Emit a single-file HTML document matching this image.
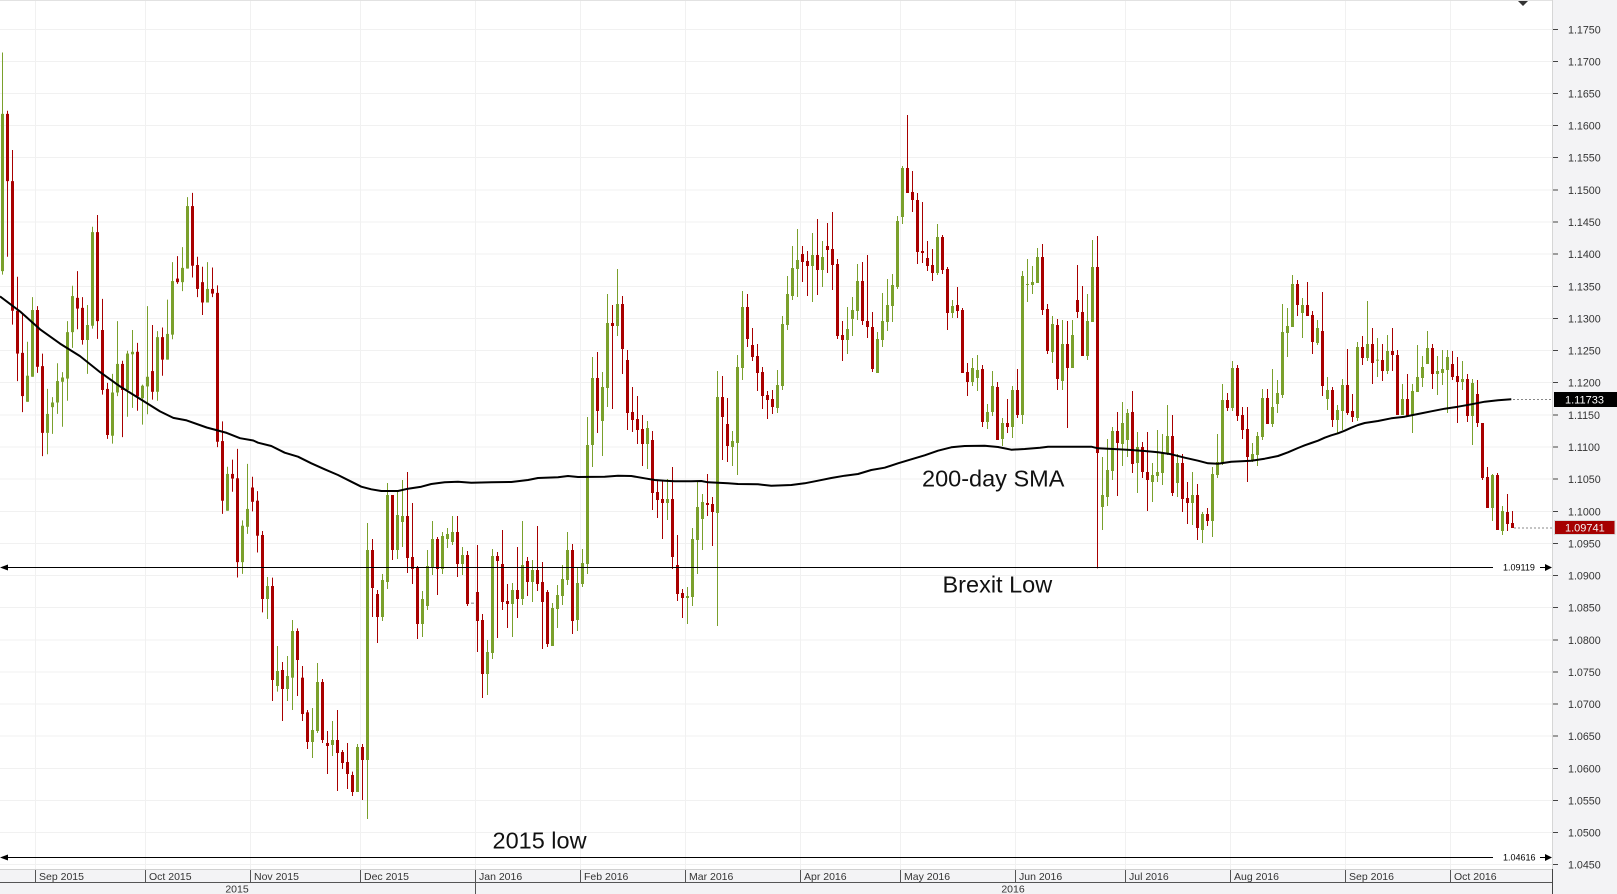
<!DOCTYPE html>
<html><head><meta charset="utf-8">
<style>
html,body{margin:0;padding:0;background:#fff;}
svg{display:block;font-family:"Liberation Sans",Arial,sans-serif;}
.a{stroke:#7aa02c;stroke-width:1;fill:none}
.b{stroke:#7aa02c;stroke-width:3;fill:none}
.c{stroke:#a80000;stroke-width:1;fill:none}
.d{stroke:#a80000;stroke-width:3;fill:none}
.tk{font-size:10.7px;fill:#333}
.mo{font-size:10.5px;fill:#333}
.big{font-size:23.5px;fill:#111}
</style></head>
<body>
<svg width="1617" height="894" viewBox="0 0 1617 894" xmlns="http://www.w3.org/2000/svg">
<rect x="0" y="0" width="1617" height="894" fill="#fff"/>
<!-- panels -->
<rect x="1553" y="0" width="64" height="894" fill="#f3f3f5"/>
<rect x="0" y="869.5" width="1553" height="25" fill="#f3f3f5"/>
<!-- horizontal grid -->
<g stroke="#f1f1f1" stroke-width="1">
<line x1="0" x2="1552" y1="29.5" y2="29.5"/><line x1="0" x2="1552" y1="61.5" y2="61.5"/><line x1="0" x2="1552" y1="93.5" y2="93.5"/><line x1="0" x2="1552" y1="125.5" y2="125.5"/><line x1="0" x2="1552" y1="157.5" y2="157.5"/><line x1="0" x2="1552" y1="190" y2="190"/><line x1="0" x2="1552" y1="222" y2="222"/><line x1="0" x2="1552" y1="254" y2="254"/><line x1="0" x2="1552" y1="286.5" y2="286.5"/><line x1="0" x2="1552" y1="318.5" y2="318.5"/><line x1="0" x2="1552" y1="350.5" y2="350.5"/><line x1="0" x2="1552" y1="382.5" y2="382.5"/><line x1="0" x2="1552" y1="415" y2="415"/><line x1="0" x2="1552" y1="447" y2="447"/><line x1="0" x2="1552" y1="479" y2="479"/><line x1="0" x2="1552" y1="511.5" y2="511.5"/><line x1="0" x2="1552" y1="543.5" y2="543.5"/><line x1="0" x2="1552" y1="575.5" y2="575.5"/><line x1="0" x2="1552" y1="607.5" y2="607.5"/><line x1="0" x2="1552" y1="640" y2="640"/><line x1="0" x2="1552" y1="672" y2="672"/><line x1="0" x2="1552" y1="704" y2="704"/><line x1="0" x2="1552" y1="736" y2="736"/><line x1="0" x2="1552" y1="768.5" y2="768.5"/><line x1="0" x2="1552" y1="800.5" y2="800.5"/><line x1="0" x2="1552" y1="832.5" y2="832.5"/><line x1="0" x2="1552" y1="864.5" y2="864.5"/>
</g>
<!-- vertical grid -->
<g stroke="#f1f1f1" stroke-width="1">
<line x1="35.5" x2="35.5" y1="0" y2="869"/><line x1="145.5" x2="145.5" y1="0" y2="869"/><line x1="250.5" x2="250.5" y1="0" y2="869"/><line x1="360.5" x2="360.5" y1="0" y2="869"/><line x1="475.5" x2="475.5" y1="0" y2="869"/><line x1="580.5" x2="580.5" y1="0" y2="869"/><line x1="685.5" x2="685.5" y1="0" y2="869"/><line x1="800.5" x2="800.5" y1="0" y2="869"/><line x1="900.5" x2="900.5" y1="0" y2="869"/><line x1="1015.5" x2="1015.5" y1="0" y2="869"/><line x1="1125.5" x2="1125.5" y1="0" y2="869"/><line x1="1230.5" x2="1230.5" y1="0" y2="869"/><line x1="1345.5" x2="1345.5" y1="0" y2="869"/><line x1="1450.5" x2="1450.5" y1="0" y2="869"/>
</g>
<!-- borders -->
<line x1="0" x2="1552" y1="0.5" y2="0.5" stroke="#e2e2e2"/>
<line x1="1552.5" x2="1552.5" y1="0" y2="869" stroke="#d6d6d6"/>
<line x1="1552.5" x2="1552.5" y1="869" y2="894" stroke="#444"/>
<polygon points="1518,1 1528,1 1523,6" fill="#333"/>

<!-- candles segment 1 -->
<g transform="translate(0,40) scale(1,0.357143)">
<path class=a d="M2.5 35V657"/><path class=b d="M2.5 207V647"/>
<path class=c d="M7.5 198V607"/><path class=d d="M7.5 207V395"/>
<path class=c d="M12.5 308V797"/><path class=d d="M12.5 395V758"/>
<path class=c d="M17.5 663V955"/><path class=d d="M17.5 758V878"/>
<path class=c d="M22.5 768V1042"/><path class=d d="M22.5 876V997"/>
<path class=a d="M27.5 845V1013"/><path class=b d="M27.5 940V1013"/>
<path class=a d="M32.5 720V943"/><path class=b d="M32.5 756V943"/>
<path class=c d="M37.5 745V932"/><path class=d d="M37.5 756V915"/>
<path class=c d="M42.5 878V1165"/><path class=d d="M42.5 913V1100"/>
<path class=a d="M47.5 977V1160"/><path class=b d="M47.5 1047V1100"/>
<path class=a d="M52.5 1000V1103"/><path class=b d="M52.5 1015V1028"/>
<path class=a d="M57.5 905V1047"/><path class=b d="M57.5 955V1015"/>
<path class=a d="M62.5 930V1083"/><path class=b d="M62.5 945V957"/>
<path class=a d="M67.5 787V1010"/><path class=b d="M67.5 818V948"/>
<path class=a d="M72.5 688V862"/><path class=b d="M72.5 717V818"/>
<path class=c d="M77.5 647V810"/><path class=d d="M77.5 722V752"/>
<path class=c d="M82.5 720V853"/><path class=d d="M82.5 750V840"/>
<path class=a d="M87.5 742V935"/><path class=b d="M87.5 798V840"/>
<path class=a d="M92.5 523V808"/><path class=b d="M92.5 538V800"/>
<path class=c d="M97.5 490V837"/><path class=d d="M97.5 538V787"/>
<path class=c d="M102.5 725V993"/><path class=d d="M102.5 812V980"/>
<path class=c d="M107.5 960V1117"/><path class=d d="M107.5 977V1106"/>
<path class=a d="M112.5 935V1130"/><path class=b d="M112.5 987V1108"/>
<path class=a d="M117.5 787V997"/><path class=b d="M117.5 907V987"/>
<path class=c d="M122.5 898V1112"/><path class=d d="M122.5 907V980"/>
<path class=a d="M127.5 870V1055"/><path class=b d="M127.5 878V980"/>
<path class=a d="M132.5 812V1030"/><path class=b d="M132.5 873V880"/>
<path class=c d="M137.5 848V1038"/><path class=d d="M137.5 873V998"/>
<path class=a d="M142.5 965V1077"/><path class=b d="M142.5 968V1003"/>
<path class=a d="M147.5 745V1048"/><path class=b d="M147.5 943V970"/>
<path class=c d="M152.5 798V1007"/><path class=d d="M152.5 927V985"/>
<path class=a d="M157.5 815V1010"/><path class=b d="M157.5 832V985"/>
<path class=c d="M162.5 805V940"/><path class=d d="M162.5 832V895"/>
<path class=a d="M167.5 727V895"/><path class=b d="M167.5 823V895"/>
<path class=a d="M172.5 622V838"/><path class=b d="M172.5 675V825"/>
<path class=c d="M177.5 605V683"/><path class=d d="M177.5 668V678"/>
<path class=a d="M182.5 580V703"/><path class=b d="M182.5 638V678"/>
<path class=a d="M187.5 440V640"/><path class=b d="M187.5 465V640"/>
<path class=c d="M192.5 428V665"/><path class=d d="M192.5 465V632"/>
<path class=c d="M197.5 607V720"/><path class=d d="M197.5 630V697"/>
<path class=c d="M202.5 635V770"/><path class=d d="M202.5 678V735"/>
<path class=a d="M207.5 622V735"/><path class=b d="M207.5 697V735"/>
<path class=c d="M212.5 637V720"/><path class=d d="M212.5 697V710"/>
<path class=c d="M217.5 687V1140"/><path class=d d="M217.5 708V1125"/>
<path class=c d="M222.5 1068V1327"/><path class=d d="M222.5 1123V1290"/>
<path class=a d="M227.5 1195V1318"/><path class=b d="M227.5 1215V1318"/>
<path class=c d="M232.5 1175V1265"/><path class=d d="M232.5 1215V1228"/>
<path class=c d="M237.5 1145V1505"/><path class=d d="M237.5 1227V1462"/>
<path class=a d="M242.5 1345V1495"/><path class=b d="M242.5 1360V1462"/>
<path class=a d="M247.5 1187V1383"/><path class=b d="M247.5 1313V1363"/>
<path class=c d="M252.5 1223V1320"/><path class=d d="M252.5 1253V1293"/>
<path class=c d="M257.5 1263V1435"/><path class=d d="M257.5 1290V1388"/>
</g>
<!-- segment 2 -->
<g transform="translate(0,420) scale(1,0.333333)">
<path class=c d="M262.5 333V577"/><path class=d d="M262.5 345V537"/>
<path class=a d="M267.5 471V597"/><path class=b d="M267.5 498V537"/>
<path class=c d="M272.5 473V843"/><path class=d d="M272.5 498V780"/>
<path class=a d="M277.5 678V815"/><path class=b d="M277.5 753V798"/>
<path class=c d="M282.5 726V903"/><path class=d d="M282.5 750V807"/>
<path class=a d="M287.5 708V843"/><path class=b d="M287.5 768V807"/>
<path class=a d="M292.5 600V870"/><path class=b d="M292.5 633V773"/>
<path class=c d="M297.5 625V828"/><path class=d d="M297.5 633V720"/>
<path class=c d="M302.5 738V903"/><path class=d d="M302.5 773V882"/>
<path class=c d="M307.5 870V987"/><path class=d d="M307.5 877V966"/>
<path class=a d="M312.5 864V1014"/><path class=b d="M312.5 930V966"/>
<path class=a d="M317.5 729V939"/><path class=b d="M317.5 786V933"/>
<path class=c d="M322.5 777V969"/><path class=d d="M322.5 786V960"/>
<path class=c d="M327.5 933V1062"/><path class=d d="M327.5 969V978"/>
<path class=a d="M332.5 903V1008"/><path class=b d="M332.5 960V975"/>
<path class=c d="M337.5 870V1113"/><path class=d d="M337.5 960V999"/>
<path class=c d="M342.5 990V1047"/><path class=d d="M342.5 996V1029"/>
<path class=c d="M347.5 969V1107"/><path class=d d="M347.5 1026V1062"/>
<path class=c d="M352.5 1055V1128"/><path class=d d="M352.5 1065V1116"/>
<path class=a d="M357.5 972V1116"/><path class=b d="M357.5 981V1116"/>
<path class=c d="M362.5 972V1140"/><path class=d d="M362.5 981V1020"/>
<path class=a d="M367.5 309V1197"/><path class=b d="M367.5 390V1020"/>
<path class=c d="M372.5 357V591"/><path class=d d="M372.5 390V504"/>
<path class=c d="M377.5 510V669"/><path class=d d="M377.5 522V591"/>
<path class=a d="M382.5 462V603"/><path class=b d="M382.5 480V591"/>
<path class=a d="M387.5 189V507"/><path class=b d="M387.5 225V486"/>
<path class=c d="M392.5 225V420"/><path class=d d="M392.5 225V390"/>
<path class=a d="M397.5 210V417"/><path class=b d="M397.5 285V390"/>
<path class=a d="M402.5 180V381"/><path class=b d="M402.5 288V306"/>
<path class=c d="M407.5 156V459"/><path class=d d="M407.5 288V414"/>
<path class=c d="M412.5 249V492"/><path class=d d="M412.5 411V447"/>
<path class=c d="M417.5 438V657"/><path class=d d="M417.5 441V612"/>
<path class=a d="M422.5 513V651"/><path class=b d="M422.5 537V612"/>
<path class=a d="M427.5 390V570"/><path class=b d="M427.5 438V558"/>
<path class=a d="M432.5 303V465"/><path class=b d="M432.5 357V441"/>
<path class=c d="M437.5 351V525"/><path class=d d="M437.5 357V447"/>
<path class=a d="M442.5 336V462"/><path class=b d="M442.5 348V447"/>
<path class=a d="M447.5 324V384"/><path class=b d="M447.5 342V357"/>
<path class=a d="M452.5 288V375"/><path class=b d="M452.5 336V366"/>
<path class=c d="M457.5 288V471"/><path class=d d="M457.5 336V432"/>
<path class=a d="M462.5 381V465"/><path class=b d="M462.5 405V432"/>
<path class=c d="M467.5 393V558"/><path class=d d="M467.5 405V552"/>
<path d="M471 549.5H474" stroke="#888" stroke-width="3"/>
<path class=c d="M477.5 375V696"/><path class=d d="M477.5 516V603"/>
<path class=c d="M482.5 582V834"/><path class=d d="M482.5 600V762"/>
<path class=a d="M487.5 660V825"/><path class=b d="M487.5 696V762"/>
<path class=a d="M492.5 387V717"/><path class=b d="M492.5 408V699"/>
<path class=c d="M497.5 396V654"/><path class=d d="M497.5 408V423"/>
<path class=c d="M502.5 330V570"/><path class=d d="M502.5 432V546"/>
<path class=c d="M507.5 492V624"/><path class=d d="M507.5 543V552"/>
<path class=a d="M512.5 489V651"/><path class=b d="M512.5 510V552"/>
<path class=c d="M517.5 381V594"/><path class=d d="M517.5 510V537"/>
</g>
<!-- segment 3 -->
<g transform="translate(0,250) scale(1,0.333333)">
<path class=a d="M522.5 813V1065"/><path class=b d="M522.5 945V1047"/>
<path class=c d="M527.5 921V1038"/><path class=d d="M527.5 933V996"/>
<path class=a d="M532.5 930V1056"/><path class=b d="M532.5 960V996"/>
<path class=c d="M537.5 828V1023"/><path class=d d="M537.5 960V1002"/>
<path class=c d="M542.5 936V1197"/><path class=d d="M542.5 996V1056"/>
<path class=c d="M547.5 1020V1191"/><path class=d d="M547.5 1026V1182"/>
<path class=a d="M552.5 1059V1188"/><path class=b d="M552.5 1074V1188"/>
<path class=a d="M557.5 1005V1134"/><path class=b d="M557.5 1035V1077"/>
<path class=a d="M562.5 945V1065"/><path class=b d="M562.5 987V1038"/>
<path class=a d="M567.5 846V1005"/><path class=b d="M567.5 900V990"/>
<path class=c d="M572.5 882V1152"/><path class=d d="M572.5 900V1113"/>
<path class=a d="M577.5 954V1143"/><path class=b d="M577.5 999V1110"/>
<path class=a d="M582.5 897V1011"/><path class=b d="M582.5 939V1002"/>
<path class=a d="M587.5 501V972"/><path class=b d="M587.5 585V942"/>
<path class=a d="M592.5 321V651"/><path class=b d="M592.5 384V585"/>
<path class=c d="M597.5 306V549"/><path class=d d="M597.5 384V483"/>
<path class=a d="M602.5 366V618"/><path class=b d="M602.5 411V513"/>
<path class=a d="M607.5 132V471"/><path class=b d="M607.5 219V414"/>
<path class=c d="M612.5 165V477"/><path class=d d="M612.5 219V228"/>
<path class=a d="M617.5 57V258"/><path class=b d="M617.5 162V228"/>
<path class=c d="M622.5 138V372"/><path class=d d="M622.5 162V297"/>
<path class=c d="M627.5 300V540"/><path class=d d="M627.5 330V489"/>
<path class=c d="M632.5 411V546"/><path class=d d="M632.5 486V510"/>
<path class=c d="M637.5 438V582"/><path class=d d="M637.5 507V540"/>
<path class=c d="M642.5 495V648"/><path class=d d="M642.5 537V582"/>
<path class=a d="M647.5 513V657"/><path class=b d="M647.5 534V582"/>
<path class=c d="M652.5 543V780"/><path class=d d="M652.5 570V729"/>
<path class=c d="M657.5 690V804"/><path class=d d="M657.5 726V750"/>
<path class=c d="M662.5 693V867"/><path class=d d="M662.5 747V759"/>
<path class=a d="M667.5 687V810"/><path class=b d="M667.5 747V759"/>
<path class=c d="M672.5 651V957"/><path class=d d="M672.5 747V921"/>
<path class=c d="M677.5 855V1053"/><path class=d d="M677.5 945V1032"/>
<path class=c d="M682.5 1017V1104"/><path class=d d="M682.5 1029V1044"/>
<path class=a d="M687.5 1011V1122"/><path class=b d="M687.5 1038V1044"/>
<path class=a d="M692.5 834V1068"/><path class=b d="M692.5 867V1041"/>
<path class=a d="M697.5 696V972"/><path class=b d="M697.5 771V870"/>
<path class=a d="M702.5 732V900"/><path class=b d="M702.5 756V807"/>
<path class=c d="M707.5 672V798"/><path class=d d="M707.5 759V765"/>
<path class=c d="M712.5 741V888"/><path class=d d="M712.5 762V786"/>
<path class=a d="M717.5 363V1128"/><path class=b d="M717.5 441V789"/>
<path class=c d="M722.5 378V630"/><path class=d d="M722.5 441V501"/>
<path class=c d="M727.5 444V636"/><path class=d d="M727.5 522V588"/>
<path class=a d="M732.5 543V648"/><path class=b d="M732.5 573V591"/>
<path class=a d="M737.5 315V675"/><path class=b d="M737.5 351V579"/>
<path class=a d="M742.5 123V390"/><path class=b d="M742.5 171V354"/>
<path class=c d="M747.5 132V291"/><path class=d d="M747.5 171V267"/>
<path class=c d="M752.5 234V333"/><path class=d d="M752.5 285V321"/>
<path class=c d="M757.5 282V423"/><path class=d d="M757.5 318V369"/>
<path class=c d="M762.5 351V477"/><path class=d d="M762.5 366V438"/>
<path class=c d="M767.5 423V507"/><path class=d d="M767.5 435V450"/>
<path class=c d="M772.5 420V492"/><path class=d d="M772.5 447V471"/>
<path class=a d="M777.5 360V489"/><path class=b d="M777.5 405V474"/>
</g>
<!-- segment 4 -->
<g transform="translate(0,100) scale(1,0.333333)">
<path class=a d="M782.5 648V870"/><path class=b d="M782.5 672V858"/>
<path class=a d="M787.5 528V690"/><path class=b d="M787.5 582V675"/>
<path class=a d="M792.5 438V600"/><path class=b d="M792.5 504V588"/>
<path class=a d="M797.5 387V591"/><path class=b d="M797.5 480V507"/>
<path class=c d="M802.5 438V546"/><path class=d d="M802.5 462V486"/>
<path class=c d="M807.5 453V588"/><path class=d d="M807.5 483V498"/>
<path class=a d="M812.5 399V606"/><path class=b d="M812.5 465V498"/>
<path class=c d="M817.5 357V585"/><path class=d d="M817.5 465V510"/>
<path class=a d="M822.5 423V561"/><path class=b d="M822.5 471V510"/>
<path class=c d="M827.5 369V519"/><path class=d d="M827.5 438V450"/>
<path class=c d="M832.5 336V570"/><path class=d d="M832.5 447V495"/>
<path class=c d="M837.5 477V717"/><path class=d d="M837.5 492V708"/>
<path class=c d="M842.5 663V783"/><path class=d d="M842.5 705V720"/>
<path class=a d="M847.5 621V762"/><path class=b d="M847.5 687V720"/>
<path class=a d="M852.5 591V708"/><path class=b d="M852.5 630V657"/>
<path class=a d="M857.5 492V660"/><path class=b d="M857.5 543V633"/>
<path class=c d="M862.5 486V675"/><path class=d d="M862.5 543V663"/>
<path class=c d="M867.5 465V714"/><path class=d d="M867.5 663V681"/>
<path class=c d="M872.5 636V816"/><path class=d d="M872.5 681V807"/>
<path class=a d="M877.5 696V819"/><path class=b d="M877.5 717V819"/>
<path class=a d="M882.5 579V741"/><path class=b d="M882.5 663V720"/>
<path class=a d="M887.5 537V693"/><path class=b d="M887.5 615V666"/>
<path class=a d="M892.5 522V666"/><path class=b d="M892.5 555V618"/>
<path class=a d="M897.5 348V567"/><path class=b d="M897.5 363V561"/>
<path class=a d="M902.5 198V372"/><path class=b d="M902.5 204V351"/>
<path class=c d="M907.5 45V279"/><path class=d d="M907.5 204V279"/>
<path class=c d="M912.5 213V336"/><path class=d d="M912.5 276V300"/>
<path class=c d="M917.5 279V492"/><path class=d d="M917.5 300V456"/>
<path class=c d="M922.5 306V489"/><path class=d d="M922.5 453V459"/>
<path class=c d="M927.5 423V513"/><path class=d d="M927.5 474V498"/>
<path class=c d="M932.5 447V543"/><path class=d d="M932.5 495V519"/>
<path class=a d="M937.5 372V525"/><path class=b d="M937.5 411V519"/>
<path class=c d="M942.5 405V522"/><path class=d d="M942.5 411V510"/>
<path class=c d="M947.5 501V690"/><path class=d d="M947.5 507V639"/>
<path class=a d="M952.5 600V654"/><path class=b d="M952.5 618V639"/>
<path class=c d="M957.5 561V654"/><path class=d d="M957.5 615V633"/>
<path class=c d="M962.5 624V819"/><path class=d d="M962.5 630V819"/>
<path class=c d="M967.5 789V888"/><path class=d d="M967.5 816V846"/>
<path class=a d="M972.5 774V858"/><path class=b d="M972.5 804V846"/>
<path class=a d="M977.5 765V873"/><path class=b d="M977.5 810V834"/>
<path class=c d="M982.5 795V981"/><path class=d d="M982.5 807V966"/>
<path class=a d="M987.5 912V987"/><path class=b d="M987.5 936V966"/>
<path class=a d="M992.5 813V948"/><path class=b d="M992.5 858V936"/>
<path class=c d="M997.5 846V1020"/><path class=d d="M997.5 861V1020"/>
<path class=a d="M1002.5 954V1038"/><path class=b d="M1002.5 969V1017"/>
<path class=c d="M1007.5 897V999"/><path class=d d="M1007.5 969V981"/>
<path class=a d="M1012.5 858V1014"/><path class=b d="M1012.5 870V981"/>
<path class=c d="M1017.5 807V954"/><path class=d d="M1017.5 870V945"/>
<path class=a d="M1022.5 513V972"/><path class=b d="M1022.5 528V945"/>
<path class=a d="M1027.5 477V606"/><path class=b d="M1027.5 552V555"/>
<path class=a d="M1032.5 498V582"/><path class=b d="M1032.5 546V555"/>
<path class=a d="M1037.5 444V549"/><path class=b d="M1037.5 471V549"/>
</g>
<!-- segment 5 -->
<g transform="translate(0,220) scale(1,0.333333)">
<path class=c d="M1042.5 72V285"/><path class=d d="M1042.5 111V270"/>
<path class=c d="M1047.5 252V402"/><path class=d d="M1047.5 267V393"/>
<path class=a d="M1052.5 288V429"/><path class=b d="M1052.5 312V396"/>
<path class=c d="M1057.5 297V510"/><path class=d d="M1057.5 315V477"/>
<path class=a d="M1062.5 300V510"/><path class=b d="M1062.5 372V483"/>
<path class=c d="M1067.5 303V624"/><path class=d d="M1067.5 372V444"/>
<path class=a d="M1072.5 300V444"/><path class=b d="M1072.5 345V444"/>
<path class=c d="M1077.5 135V294"/><path class=d d="M1077.5 240V276"/>
<path class=c d="M1082.5 198V408"/><path class=d d="M1082.5 276V408"/>
<path class=a d="M1087.5 222V420"/><path class=b d="M1087.5 303V408"/>
<path class=a d="M1092.5 60V306"/><path class=b d="M1092.5 141V306"/>
<path class=c d="M1097.5 48V1045"/><path class=d d="M1097.5 141V699"/>
<path class=a d="M1102.5 711V930"/><path class=b d="M1102.5 825V861"/>
<path class=a d="M1107.5 657V858"/><path class=b d="M1107.5 750V831"/>
<path class=a d="M1112.5 621V780"/><path class=b d="M1112.5 633V753"/>
<path class=c d="M1117.5 576V828"/><path class=d d="M1117.5 633V669"/>
<path class=a d="M1122.5 546V738"/><path class=b d="M1122.5 609V672"/>
<path class=a d="M1127.5 567V711"/><path class=b d="M1127.5 579V660"/>
<path class=c d="M1132.5 513V759"/><path class=d d="M1132.5 576V732"/>
<path class=a d="M1137.5 636V819"/><path class=b d="M1137.5 681V729"/>
<path class=c d="M1142.5 666V774"/><path class=d d="M1142.5 681V756"/>
<path class=c d="M1147.5 636V873"/><path class=d d="M1147.5 756V780"/>
<path class=a d="M1152.5 729V846"/><path class=b d="M1152.5 765V786"/>
<path class=a d="M1157.5 630V786"/><path class=b d="M1157.5 756V768"/>
<path class=a d="M1162.5 642V795"/><path class=b d="M1162.5 699V759"/>
<path class=a d="M1167.5 555V705"/><path class=b d="M1167.5 648V702"/>
<path class=c d="M1172.5 585V828"/><path class=d d="M1172.5 648V819"/>
<path class=a d="M1177.5 702V831"/><path class=b d="M1177.5 729V789"/>
<path class=c d="M1182.5 702V876"/><path class=d d="M1182.5 729V837"/>
<path class=c d="M1187.5 786V912"/><path class=d d="M1187.5 834V849"/>
<path class=a d="M1192.5 756V915"/><path class=b d="M1192.5 825V849"/>
<path class=c d="M1197.5 792V960"/><path class=d d="M1197.5 825V924"/>
<path class=a d="M1202.5 876V969"/><path class=b d="M1202.5 882V930"/>
<path class=c d="M1207.5 864V918"/><path class=d d="M1207.5 882V903"/>
<path class=a d="M1212.5 741V951"/><path class=b d="M1212.5 762V903"/>
<path class=a d="M1217.5 642V774"/><path class=b d="M1217.5 726V765"/>
<path class=a d="M1222.5 492V735"/><path class=b d="M1222.5 540V729"/>
<path class=c d="M1227.5 519V573"/><path class=d d="M1227.5 540V564"/>
<path class=a d="M1232.5 423V573"/><path class=b d="M1232.5 444V564"/>
<path class=c d="M1237.5 435V603"/><path class=d d="M1237.5 444V588"/>
<path class=c d="M1242.5 561V657"/><path class=d d="M1242.5 585V630"/>
<path class=c d="M1247.5 561V786"/><path class=d d="M1247.5 627V711"/>
<path class=a d="M1252.5 669V726"/><path class=b d="M1252.5 702V720"/>
<path class=a d="M1257.5 636V738"/><path class=b d="M1257.5 648V705"/>
<path class=a d="M1262.5 507V660"/><path class=b d="M1262.5 534V651"/>
<path class=c d="M1267.5 507V612"/><path class=d d="M1267.5 534V612"/>
<path class=a d="M1272.5 447V621"/><path class=b d="M1272.5 561V612"/>
<path class=a d="M1277.5 480V579"/><path class=b d="M1277.5 519V552"/>
<path class=a d="M1282.5 252V534"/><path class=b d="M1282.5 336V525"/>
<path class=a d="M1287.5 264V411"/><path class=b d="M1287.5 318V339"/>
<path class=a d="M1292.5 165V321"/><path class=b d="M1292.5 192V321"/>
<path class=c d="M1297.5 180V288"/><path class=d d="M1297.5 192V255"/>
</g>
<!-- segment 6 -->
<g transform="translate(0,260) scale(1,0.333333)">
<path class=a d="M1302.5 114V234"/><path class=b d="M1302.5 135V159"/>
<path class=c d="M1307.5 66V168"/><path class=d d="M1307.5 135V168"/>
<path class=c d="M1312.5 153V282"/><path class=d d="M1312.5 165V246"/>
<path class=a d="M1317.5 180V255"/><path class=b d="M1317.5 204V249"/>
<path class=c d="M1322.5 96V408"/><path class=d d="M1322.5 213V378"/>
<path class=a d="M1327.5 351V450"/><path class=b d="M1327.5 390V417"/>
<path class=c d="M1332.5 381V501"/><path class=d d="M1332.5 390V480"/>
<path class=a d="M1337.5 435V519"/><path class=b d="M1337.5 450V480"/>
<path class=a d="M1342.5 357V510"/><path class=b d="M1342.5 375V453"/>
<path class=c d="M1347.5 267V465"/><path class=d d="M1347.5 375V459"/>
<path class=c d="M1352.5 402V486"/><path class=d d="M1352.5 453V471"/>
<path class=a d="M1357.5 246V483"/><path class=b d="M1357.5 261V474"/>
<path class=c d="M1362.5 228V315"/><path class=d d="M1362.5 261V294"/>
<path class=a d="M1367.5 123V303"/><path class=b d="M1367.5 252V294"/>
<path class=c d="M1372.5 204V372"/><path class=d d="M1372.5 252V309"/>
<path class=a d="M1377.5 234V351"/><path class=b d="M1377.5 299V302"/>
<path class=c d="M1382.5 252V363"/><path class=d d="M1382.5 300V333"/>
<path class=a d="M1387.5 225V342"/><path class=b d="M1387.5 273V333"/>
<path class=c d="M1392.5 204V333"/><path class=d d="M1392.5 273V285"/>
<path class=c d="M1397.5 270V465"/><path class=d d="M1397.5 285V465"/>
<path class=a d="M1402.5 372V465"/><path class=b d="M1402.5 417V465"/>
<path class=c d="M1407.5 342V468"/><path class=d d="M1407.5 417V468"/>
<path class=a d="M1412.5 372V519"/><path class=b d="M1412.5 393V465"/>
<path class=a d="M1417.5 255V396"/><path class=b d="M1417.5 351V396"/>
<path class=a d="M1422.5 288V381"/><path class=b d="M1422.5 321V354"/>
<path class=a d="M1427.5 213V312"/><path class=b d="M1427.5 264V312"/>
<path class=c d="M1432.5 252V387"/><path class=d d="M1432.5 264V342"/>
<path class=a d="M1437.5 288V405"/><path class=b d="M1437.5 333V342"/>
<path class=a d="M1442.5 270V375"/><path class=b d="M1442.5 327V339"/>
<path class=a d="M1447.5 270V459"/><path class=b d="M1447.5 291V330"/>
<path class=c d="M1452.5 273V360"/><path class=d d="M1452.5 312V351"/>
<path class=c d="M1457.5 291V489"/><path class=d d="M1457.5 348V366"/>
<path class=a d="M1462.5 303V390"/><path class=b d="M1462.5 357V366"/>
<path class=c d="M1467.5 342V486"/><path class=d d="M1467.5 357V468"/>
<path class=a d="M1472.5 357V555"/><path class=b d="M1472.5 369V468"/>
<path class=c d="M1477.5 360V501"/><path class=d d="M1477.5 402V489"/>
<path class=c d="M1482.5 489V660"/><path class=d d="M1482.5 489V654"/>
<path class=c d="M1487.5 621V744"/><path class=d d="M1487.5 651V744"/>
<path class=a d="M1492.5 642V783"/><path class=b d="M1492.5 645V744"/>
<path class=c d="M1497.5 639V810"/><path class=d d="M1497.5 645V810"/>
<path class=a d="M1502.5 738V825"/><path class=b d="M1502.5 753V813"/>
<path class=c d="M1507.5 702V813"/><path class=d d="M1507.5 756V792"/>
<path class=c d="M1512.5 753V804"/><path class=d d="M1512.5 789V804"/>
</g>

<!-- 200-day SMA -->
<polyline fill="none" stroke="#000" stroke-width="2" stroke-linejoin="round" points="0,296.4 20,311.4 40,329.3 60,343.6 80,356.1 100,372.1 120,386.4 140,398.9 160,411.4 173.3,417.9 186.7,420.4 206.7,427.5 226.7,432.9 240,438.2 253.3,440.5 258,442.7 271.3,446 284.7,452.7 298,456.7 311.3,463.3 324.7,469.3 338,475 351.3,481.7 361.3,486.7 371.3,489.3 381.3,491 398,491 408,488.7 421.3,486.7 431.3,484 444.7,482.3 458,481.7 471.3,482.7 491.3,482.3 511.3,482 528,480 538,478 558,477.3 568,476 578,477 604.7,476.7 618,475.7 631.3,476 644.7,478.3 654.7,480 664.7,480.7 674.7,481.3 691.3,481.3 701.3,481 708,482.3 718,482.7 728,483.3 738,484 758,484.3 771.3,485.7 791.3,485 804.7,483.3 818,480.7 831.3,478 844.7,475.7 858,474 871.3,470 884.7,467.7 898,463.3 911.3,459.3 924.7,455.3 938,450.7 951.3,447.3 964.7,446 984.7,445.7 998,447 1011.3,449.7 1024.7,449 1040,447.7 1048,446.7 1091.3,446.7 1098,448.3 1118,449.3 1131.3,450 1144.7,451 1158,452.3 1171.3,454.3 1184.7,457.7 1198,460.7 1208,463.3 1218,463.7 1231.3,461.7 1251.3,460.7 1264.7,458.7 1278,456 1288,452.3 1298,448 1304.7,445.3 1311.3,443 1318,440.7 1324.7,437.7 1331.3,435.3 1338,433.3 1344.7,430.7 1351.3,427.7 1358,425 1364.7,423 1378,421 1391.3,418.3 1404.7,416.7 1418,414 1431.3,411.3 1444.7,408.7 1458,406.7 1471.3,404.3 1484.7,401.7 1498,400.3 1511.3,399.3"/>

<!-- dashed value lines -->
<line x1="1513" x2="1552" y1="399.5" y2="399.5" stroke="#888" stroke-width="1" stroke-dasharray="2,2"/>
<line x1="1514" x2="1552" y1="528" y2="528" stroke="#888" stroke-width="1" stroke-dasharray="2,2"/>

<!-- Brexit low line -->
<line x1="6" x2="1493" y1="567.5" y2="567.5" stroke="#000" stroke-width="1"/>
<polygon points="0,567.5 8,564.5 8,570.5" fill="#000"/>
<text x="1503" y="570.5" font-size="9" fill="#000">1.09119</text>
<line x1="1540" x2="1547" y1="567.5" y2="567.5" stroke="#000" stroke-width="1"/>
<polygon points="1545,564 1552,567.5 1545,571" fill="#000"/>

<!-- 2015 low line -->
<line x1="6" x2="1493" y1="857.5" y2="857.5" stroke="#000" stroke-width="1"/>
<polygon points="0,857.5 8,854.5 8,860.5" fill="#000"/>
<text x="1503" y="860.5" font-size="9" fill="#000">1.04616</text>
<line x1="1540" x2="1547" y1="857.5" y2="857.5" stroke="#000" stroke-width="1"/>
<polygon points="1545,854 1552,857.5 1545,861" fill="#000"/>

<!-- annotations -->
<text class="big" x="922" y="486.5">200-day SMA</text>
<text class="big" x="942.5" y="592.5">Brexit Low</text>
<text class="big" x="492.5" y="848.3">2015 low</text>

<!-- right axis ticks -->
<g stroke="#444" stroke-width="1">
<line x1="1553" x2="1558" y1="29.5" y2="29.5"/><line x1="1553" x2="1558" y1="61.5" y2="61.5"/><line x1="1553" x2="1558" y1="93.5" y2="93.5"/><line x1="1553" x2="1558" y1="125.5" y2="125.5"/><line x1="1553" x2="1558" y1="157.5" y2="157.5"/><line x1="1553" x2="1558" y1="190" y2="190"/><line x1="1553" x2="1558" y1="222" y2="222"/><line x1="1553" x2="1558" y1="254" y2="254"/><line x1="1553" x2="1558" y1="286.5" y2="286.5"/><line x1="1553" x2="1558" y1="318.5" y2="318.5"/><line x1="1553" x2="1558" y1="350.5" y2="350.5"/><line x1="1553" x2="1558" y1="382.5" y2="382.5"/><line x1="1553" x2="1558" y1="415" y2="415"/><line x1="1553" x2="1558" y1="447" y2="447"/><line x1="1553" x2="1558" y1="479" y2="479"/><line x1="1553" x2="1558" y1="511.5" y2="511.5"/><line x1="1553" x2="1558" y1="543.5" y2="543.5"/><line x1="1553" x2="1558" y1="575.5" y2="575.5"/><line x1="1553" x2="1558" y1="607.5" y2="607.5"/><line x1="1553" x2="1558" y1="640" y2="640"/><line x1="1553" x2="1558" y1="672" y2="672"/><line x1="1553" x2="1558" y1="704" y2="704"/><line x1="1553" x2="1558" y1="736" y2="736"/><line x1="1553" x2="1558" y1="768.5" y2="768.5"/><line x1="1553" x2="1558" y1="800.5" y2="800.5"/><line x1="1553" x2="1558" y1="832.5" y2="832.5"/><line x1="1553" x2="1558" y1="864.5" y2="864.5"/>
</g>
<g class="tk">
<text x="1568" y="33.5">1.1750</text><text x="1568" y="65.5">1.1700</text><text x="1568" y="97.5">1.1650</text><text x="1568" y="129.5">1.1600</text><text x="1568" y="161.5">1.1550</text><text x="1568" y="194">1.1500</text><text x="1568" y="226">1.1450</text><text x="1568" y="258">1.1400</text><text x="1568" y="290.5">1.1350</text><text x="1568" y="322.5">1.1300</text><text x="1568" y="354.5">1.1250</text><text x="1568" y="386.5">1.1200</text><text x="1568" y="419">1.1150</text><text x="1568" y="451">1.1100</text><text x="1568" y="483">1.1050</text><text x="1568" y="515.5">1.1000</text><text x="1568" y="547.5">1.0950</text><text x="1568" y="579.5">1.0900</text><text x="1568" y="611.5">1.0850</text><text x="1568" y="644">1.0800</text><text x="1568" y="676">1.0750</text><text x="1568" y="708">1.0700</text><text x="1568" y="740">1.0650</text><text x="1568" y="772.5">1.0600</text><text x="1568" y="804.5">1.0550</text><text x="1568" y="836.5">1.0500</text><text x="1568" y="868.5">1.0450</text>
</g>

<!-- value labels -->
<rect x="1554" y="392" width="63" height="15" fill="#000"/>
<text x="1565" y="403.5" font-size="11" fill="#fff">1.11733</text>
<rect x="1554.5" y="520.5" width="60.5" height="14" fill="#a60000" stroke="#d8d8d8" stroke-width="1"/>
<text x="1565" y="531.5" font-size="11" fill="#f2f2f2">1.09741</text>

<!-- bottom axis -->
<line x1="0" x2="1552" y1="869.5" y2="869.5" stroke="#d0d0d0"/>
<line x1="0" x2="1552" y1="882.5" y2="882.5" stroke="#555"/>
<g stroke="#555" stroke-width="1">
<line x1="35.5" x2="35.5" y1="870" y2="882"/><line x1="145.5" x2="145.5" y1="870" y2="882"/><line x1="250.5" x2="250.5" y1="870" y2="882"/><line x1="360.5" x2="360.5" y1="870" y2="882"/><line x1="475.5" x2="475.5" y1="870" y2="894"/><line x1="580.5" x2="580.5" y1="870" y2="882"/><line x1="685.5" x2="685.5" y1="870" y2="882"/><line x1="800.5" x2="800.5" y1="870" y2="882"/><line x1="900.5" x2="900.5" y1="870" y2="882"/><line x1="1015.5" x2="1015.5" y1="870" y2="882"/><line x1="1125.5" x2="1125.5" y1="870" y2="882"/><line x1="1230.5" x2="1230.5" y1="870" y2="882"/><line x1="1345.5" x2="1345.5" y1="870" y2="882"/><line x1="1450.5" x2="1450.5" y1="870" y2="882"/>
</g>
<g class="mo">
<text x="39" y="880">Sep 2015</text><text x="149" y="880">Oct 2015</text><text x="254" y="880">Nov 2015</text><text x="364" y="880">Dec 2015</text><text x="479" y="880">Jan 2016</text><text x="584" y="880">Feb 2016</text><text x="689" y="880">Mar 2016</text><text x="804" y="880">Apr 2016</text><text x="904" y="880">May 2016</text><text x="1019" y="880">Jun 2016</text><text x="1129" y="880">Jul 2016</text><text x="1234" y="880">Aug 2016</text><text x="1349" y="880">Sep 2016</text><text x="1454" y="880">Oct 2016</text>
<text x="237" y="892.5" text-anchor="middle">2015</text><text x="1013" y="892.5" text-anchor="middle">2016</text>
</g>
</svg>
</body></html>
